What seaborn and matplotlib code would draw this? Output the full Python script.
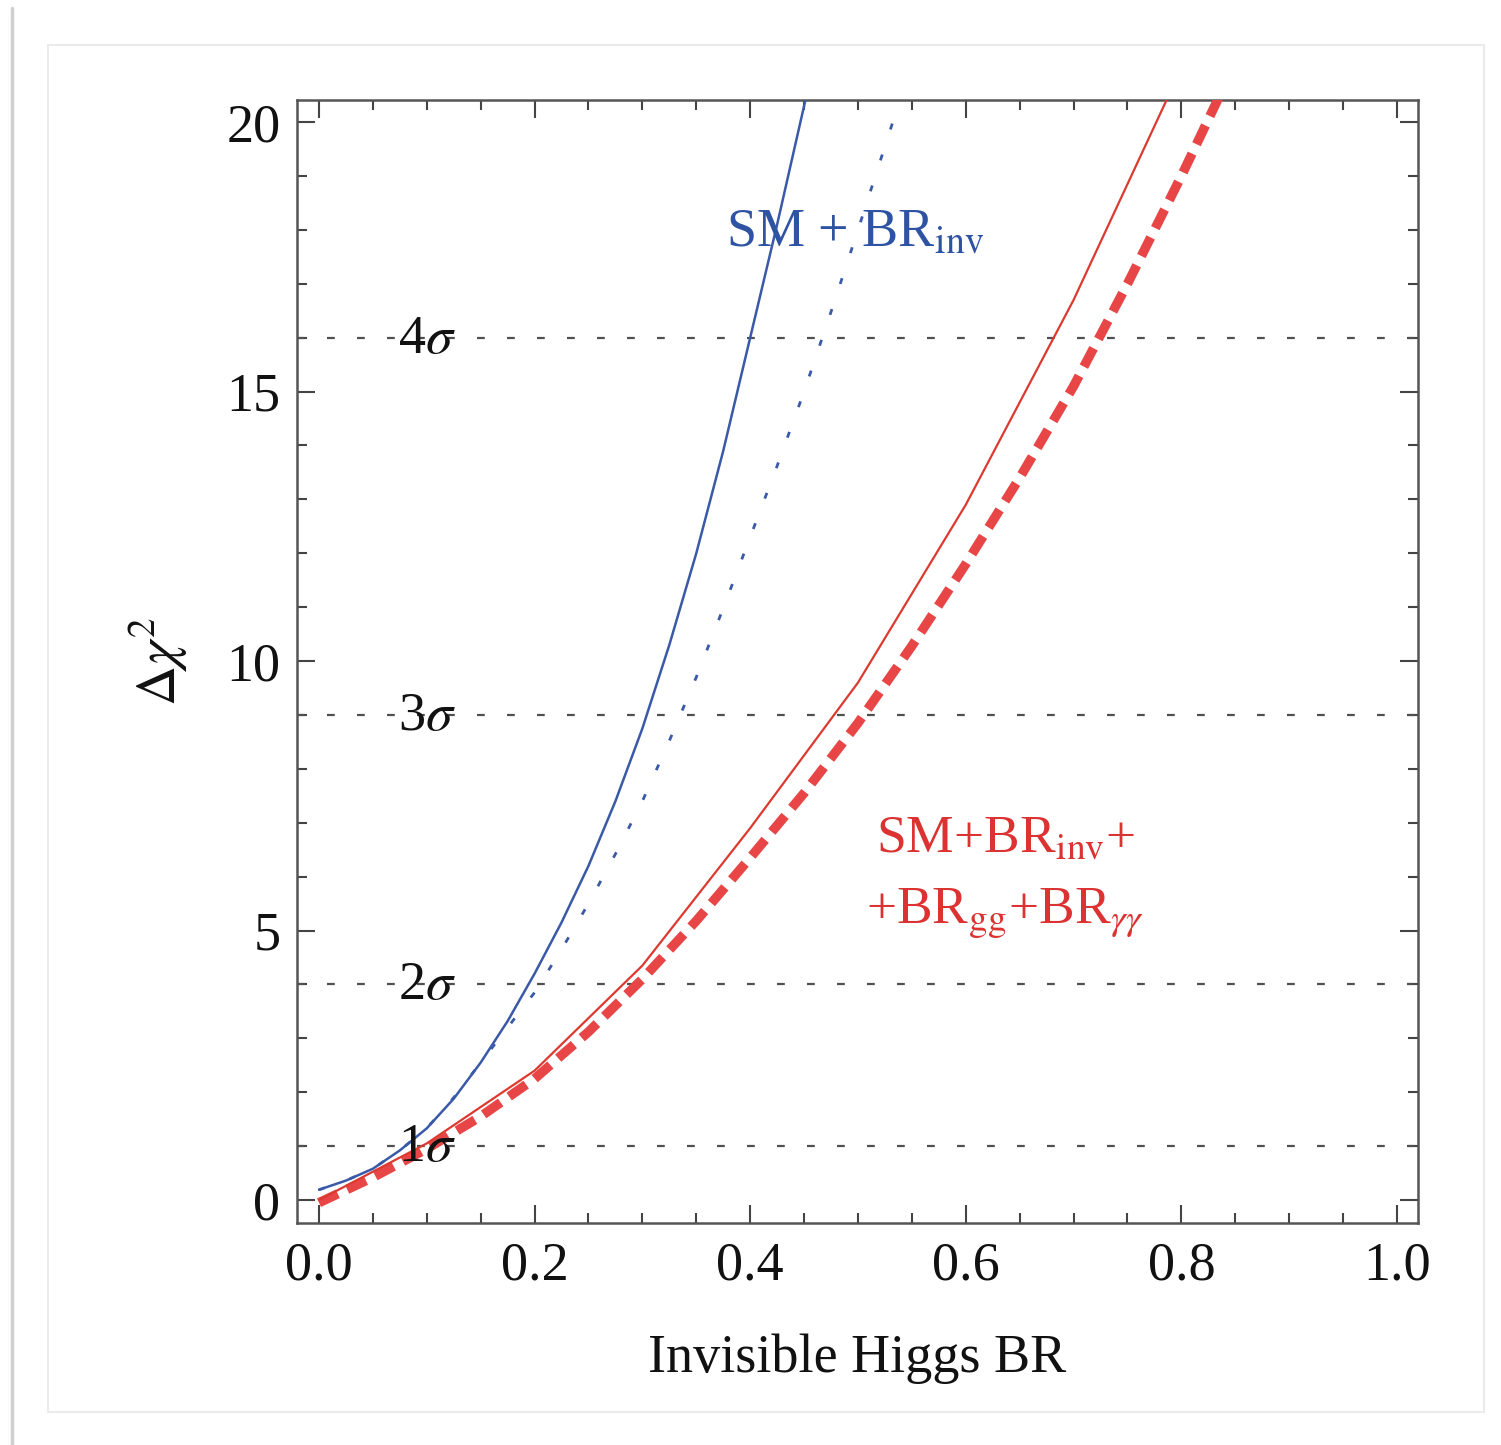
import numpy as np
import pandas as pd
import matplotlib
matplotlib.use("Agg")
import matplotlib.pyplot as plt
from matplotlib.ticker import MultipleLocator, FixedLocator
from matplotlib.patches import Rectangle
from matplotlib.lines import Line2D
import seaborn as sns

# ---- data ----
blue_solid_x = [0.0, 0.025, 0.05, 0.075, 0.10, 0.125, 0.15, 0.175, 0.20, 0.225,
                0.25, 0.275, 0.30, 0.325, 0.35, 0.375, 0.40, 0.425, 0.45, 0.46]
blue_solid_y = [0.19, 0.36, 0.58, 0.92, 1.33, 1.88, 2.55, 3.32, 4.20, 5.15,
                6.20, 7.40, 8.75, 10.3, 12.0, 13.9, 16.0, 18.1, 20.3, 21.2]

blue_dot_x = [0.0, 0.025, 0.05, 0.075, 0.10, 0.125, 0.15, 0.175, 0.20, 0.225, 0.25, 0.275,
              0.30, 0.325, 0.35, 0.375, 0.40, 0.425, 0.45, 0.475, 0.50, 0.525, 0.55]
blue_dot_y = [0.19, 0.36, 0.58, 0.92, 1.33, 1.90, 2.55, 3.20, 3.85, 4.65, 5.50, 6.42,
              7.40, 8.52, 9.70, 10.98, 12.3, 13.62, 15.0, 16.48, 18.0, 19.55, 21.1]

red_solid_x = [0.0, 0.1, 0.2, 0.3, 0.4, 0.5, 0.6, 0.7, 0.8]
red_solid_y = [0.0, 1.05, 2.40, 4.35, 6.90, 9.60, 12.9, 16.7, 21.0]

red_dash_x = [0.0, 0.05, 0.10, 0.15, 0.20, 0.25, 0.30, 0.35, 0.40, 0.45,
              0.50, 0.55, 0.60, 0.65, 0.70, 0.75, 0.80, 0.85]
red_dash_y = [-0.05, 0.42, 0.95, 1.55, 2.25, 3.12, 4.10, 5.18, 6.35, 7.55,
              8.85, 10.28, 11.8, 13.4, 15.1, 17.0, 19.0, 21.1]

sigma_levels = [1, 4, 9, 16]
sigma_labels = [r"1$\sigma$", r"2$\sigma$", r"3$\sigma$", r"4$\sigma$"]

x_ticks = [0.0, 0.2, 0.4, 0.6, 0.8, 1.0]
x_tick_labels = ["0.0", "0.2", "0.4", "0.6", "0.8", "1.0"]
y_ticks = [0, 5, 10, 15, 20]
y_tick_labels = ["0", "5", "10", "15", "20"]

# ---- style ----
sns.set_theme(style="white")
plt.rcParams["font.family"] = ["Liberation Serif", "DejaVu Serif"]
plt.rcParams["mathtext.fontset"] = "stix"

fig = plt.figure(figsize=(15.01, 14.45), dpi=100)
fig.patch.set_facecolor("white")

# card frame around the plot
fig.patches.append(Rectangle((48/1501, 1 - 1412/1445), (1484-48)/1501, (1412-45)/1445,
                             transform=fig.transFigure, fill=False,
                             edgecolor="#ebebeb", linewidth=1.5, zorder=0))
fig.lines.append(Line2D([12/1501, 12/1501], [0, 1 - 8/1445], transform=fig.transFigure,
                        color="#d0d0d0", linewidth=2.5, zorder=0))

ax = fig.add_axes([297/1501, 1 - 1223/1445, (1418-297)/1501, (1223-100)/1445])
ax.set_facecolor("white")

blue = "#3a5aa8"
red_line = "#dc3a30"
red_dash = "#e84646"

df_bs = pd.DataFrame({"x": blue_solid_x, "y": blue_solid_y})
df_bd = pd.DataFrame({"x": blue_dot_x, "y": blue_dot_y})
df_rs = pd.DataFrame({"x": red_solid_x, "y": red_solid_y})
df_rd = pd.DataFrame({"x": red_dash_x, "y": red_dash_y})

for lvl in sigma_levels:
    ax.axhline(lvl, color="#505050", linewidth=1.6, linestyle=(0, (3.5, 10)), zorder=1)

sns.lineplot(data=df_rd, x="x", y="y", ax=ax, color=red_dash, linewidth=6.8,
             linestyle=(0, (2.2, 1.1)), estimator=None, sort=False, zorder=3)
sns.lineplot(data=df_rs, x="x", y="y", ax=ax, color=red_line, linewidth=1.6,
             estimator=None, sort=False, zorder=4)
sns.lineplot(data=df_bd, x="x", y="y", ax=ax, color=blue, linewidth=2.0,
             linestyle=(0, (2.2, 9.5)), estimator=None, sort=False, zorder=4)
sns.lineplot(data=df_bs, x="x", y="y", ax=ax, color=blue, linewidth=1.8,
             estimator=None, sort=False, zorder=5)

ax.set_xlim(-0.0204, 1.0195)
ax.set_ylim(-0.427, 20.41)

# sigma labels
for lvl, lab in zip(sigma_levels, sigma_labels):
    ax.text(0.100, lvl - 0.28, lab, fontsize=39, color="#111111",
            ha="center", va="baseline", zorder=6)

ax.text(0.497, 17.7, r"SM + BR$_{\mathrm{inv}}$", fontsize=39, color="#2f53a3",
        ha="center", va="baseline", zorder=6)
ax.text(0.637, 6.45, r"SM+BR$_{\mathrm{inv}}$+", fontsize=38.5, color="#dc3232",
        ha="center", va="baseline", zorder=6)
ax.text(0.637, 5.15, r"+BR$_{\mathrm{gg}}$+BR$_{\gamma\gamma}$", fontsize=38.5, color="#dc3232",
        ha="center", va="baseline", zorder=6)

# ticks
ax.xaxis.set_major_locator(FixedLocator(x_ticks))
ax.set_xticklabels(x_tick_labels)
ax.xaxis.set_minor_locator(MultipleLocator(0.05))
ax.yaxis.set_major_locator(FixedLocator(y_ticks))
ax.set_yticklabels(y_tick_labels)
ax.yaxis.set_minor_locator(MultipleLocator(1))
ax.tick_params(which="both", direction="in", top=True, right=True, bottom=True, left=True,
               color="#444444", width=1.5)
ax.tick_params(which="major", length=13, labelsize=39, labelcolor="#111111")
ax.tick_params(axis="x", which="major", pad=13)
ax.tick_params(axis="y", which="major", pad=12)
ax.tick_params(which="minor", length=7)

for s in ax.spines.values():
    s.set_color("#555555")
    s.set_linewidth(1.8)
    s.set_visible(True)

ax.set_xlabel("Invisible Higgs BR", fontsize=39, color="#111111", labelpad=30)
ax.set_ylabel(r"$\Delta\chi^2$", fontsize=40, color="#111111", labelpad=26)

fig.savefig("out.png", dpi=100, facecolor="white")
